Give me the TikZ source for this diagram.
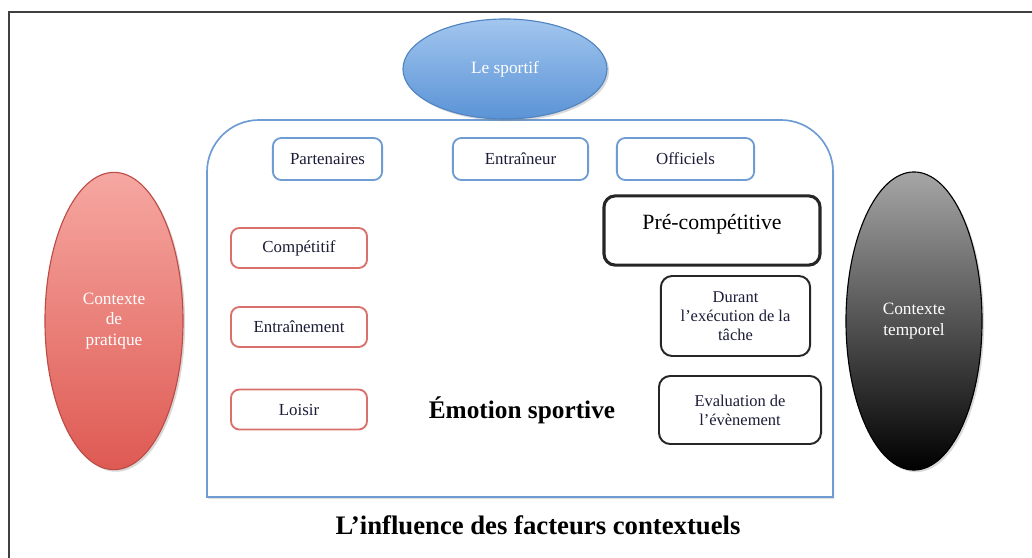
\documentclass[tikz,border=0pt]{standalone}
\usepackage{fontspec}
\setmainfont{Liberation Serif}
\usepackage{tikz}
\usetikzlibrary{positioning, shapes, shadows}

\definecolor{boxblue}{HTML}{6F9DD3}
\definecolor{boxred}{HTML}{D9706B}
\definecolor{txtdark}{HTML}{1C1C38}
\definecolor{bluetop}{HTML}{A2C6EE}
\definecolor{bluebot}{HTML}{5A93D6}
\definecolor{redtop}{HTML}{F6A7A1}
\definecolor{redbot}{HTML}{DE5A53}

\begin{document}
\begin{tikzpicture}[
            x=0.025cm, y=-0.025cm, % one unit = one pixel of the layout
            panel/.style={draw=boxblue, line width=1.2pt, fill=white, drop shadow={opacity=0.25, shadow xshift=1pt, shadow yshift=-1.5pt}},
            actor/.style={rectangle, draw=boxblue, line width=1.3pt, rounded corners=6pt, fill=white, text=txtdark, font=\fontsize{12}{14}\selectfont, minimum height=1.05cm},
            practice/.style={rectangle, draw=boxred, line width=1.3pt, rounded corners=6pt, fill=white, text=txtdark, font=\fontsize{12}{14}\selectfont, minimum width=3.4cm, minimum height=1cm},
            phase/.style={rectangle, draw=black!85, line width=1.4pt, rounded corners=8pt, fill=white, text=txtdark, align=center, font=\fontsize{11.7}{13.5}\selectfont},
            context/.style={ellipse, draw, line width=0.8pt, text=white, align=center, font=\fontsize{12.3}{14.5}\selectfont, drop shadow={opacity=0.3, shadow xshift=1.5pt, shadow yshift=-1.5pt}}
        ]
        \useasboundingbox (0,0) rectangle (1032,558);
        
        % Frame
        \draw[black!75, line width=1.4pt] (9,558) -- (9,12) -- (1032,12);
        
        % Panel
        \draw[panel] (207,497) [rounded corners=1.3cm] -- (207,120) -- (833,120) [sharp corners] -- (833,497) -- cycle;
        
        % Contexts
        \node[context, draw=bluebot!90!black, top color=bluetop, bottom color=bluebot, minimum width=5.1cm, minimum height=2.5cm] (sportif) at (505,69) {Le sportif};
        \node[context, draw=redbot!85!black, top color=redtop, bottom color=redbot, minimum width=3.45cm, minimum height=7.43cm] (pratique) at (114,321) {Contexte\\de\\pratique};
        \node[context, draw=black, top color=black!35, bottom color=black, minimum width=3.4cm, minimum height=7.45cm] (temporel) at (914,321) {Contexte\\temporel};
        
        % Actors
        \node[actor, minimum width=2.73cm] (partenaires) at (327.5,159) {Partenaires};
        \node[actor, minimum width=3.38cm] (entraineur) at (520.5,159) {Entraîneur};
        \node[actor, minimum width=3.43cm] (officiels) at (685.5,159) {Officiels};
        
        % Practice
        \node[practice] (competitif) at (299,248) {Compétitif};
        \node[practice] (entrainement) at (299,327) {Entraînement};
        \node[practice] (loisir) at (299,409.5) {Loisir};
        
        % Phases
        \node[phase, line width=2.2pt, text=black, minimum width=5.4cm, minimum height=1.73cm, text depth=0.42cm, font=\fontsize{15.5}{18}\selectfont] (pre) at (712,230.5) {Pré-compétitive};
        \node[phase, minimum width=3.73cm, minimum height=2cm] (durant) at (735.5,316) {Durant\\l’exécution de la\\tâche};
        \node[phase, minimum width=4.05cm, minimum height=1.7cm] (evaluation) at (740,410) {Evaluation de\\l’évènement};
        
        % Labels
        \node[font=\bfseries\fontsize{18}{21}\selectfont] (emotion) at (522,410) {Émotion sportive};
        \node[font=\bfseries\fontsize{19}{22}\selectfont] (titre) at (538,525) {L’influence des facteurs contextuels};
        
        \end{tikzpicture}
\end{document}
